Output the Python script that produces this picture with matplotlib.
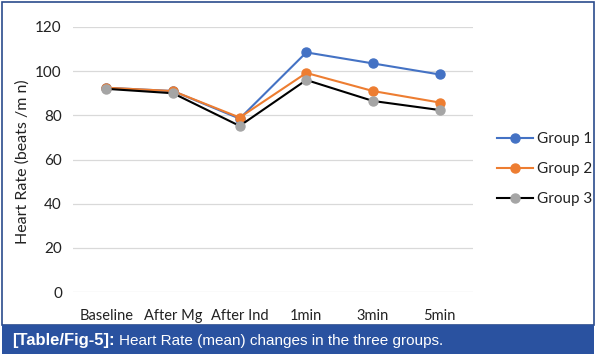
import matplotlib.pyplot as plt
from matplotlib.patches import Rectangle

categories = ["Baseline", "After Mg", "After Ind", "1min", "3min", "5min"]
group1 = [92.5, 91, 78.5, 108.5, 103.5, 98.5]
group2 = [92.5, 91, 79, 99.2, 91, 85.8]
group3 = [92, 90, 75.2, 96, 86.5, 82.4]
series_names = ["Group 1", "Group 2", "Group 3"]
yticks = [0, 20, 40, 60, 80, 100, 120]

W, H = 598, 358
fig = plt.figure(figsize=(W / 100, H / 100), dpi=100)
fig.patch.set_facecolor("white")

tick_font = "Lato"
tc = "#222222"

ax = fig.add_axes([73 / W, 1 - 292 / H, 400 / W, 265 / H])
x = list(range(len(categories)))
ax.plot(x, group1, color="#4472C4", lw=1.5, marker="o", ms=6.5, mfc="#4472C4", mec="#4472C4", label=series_names[0], zorder=3)
ax.plot(x, group2, color="#ED7D31", lw=1.5, marker="o", ms=6.5, mfc="#ED7D31", mec="#ED7D31", label=series_names[1], zorder=4)
ax.plot(x, group3, color="black", lw=1.5, marker="o", ms=6.5, mfc="#A5A5A5", mec="#A5A5A5", label=series_names[2], zorder=5)

ax.set_xlim(-0.5, len(categories) - 0.5)
ax.set_ylim(0, 120)
ax.set_yticks(yticks)
ax.set_yticklabels([str(v) for v in yticks], fontsize=11, family=tick_font, color=tc)
ax.set_xticks(x)
ax.set_xticklabels(categories, fontsize=10.5, family=tick_font, color=tc)
ax.tick_params(length=0)
ax.tick_params(axis="x", pad=12)
ax.tick_params(axis="y", pad=8)
ax.grid(axis="y", color="#D9D9D9", lw=0.9)
ax.set_axisbelow(True)
for s in ax.spines.values():
    s.set_visible(False)

fig.text(23 / W, 1 - 162 / H, "Heart Rate (beats /m n)", rotation=90, va="center", ha="center",
         fontsize=11.5, family=tick_font, color=tc)

leg = fig.legend(loc="center left", bbox_to_anchor=(497 / W, 1 - 169 / H),
                 frameon=False, prop={"family": tick_font, "size": 11},
                 handlelength=2.35, handletextpad=0.3, labelspacing=1.05,
                 borderpad=0, borderaxespad=0)
for t in leg.get_texts():
    t.set_color(tc)

# outer border
fig.patches.append(Rectangle((2 / W, 1 - 325 / H), 592 / W, 323 / H, transform=fig.transFigure,
                             fill=False, edgecolor="#2B4C8C", lw=1.2))
# caption bar
fig.patches.append(Rectangle((2 / W, 1 - 354 / H), 592 / W, 29 / H, transform=fig.transFigure,
                             facecolor="#2A52A0", edgecolor="none"))
fig.text(12 / W, 1 - 341 / H, "[Table/Fig-5]:", color="white", fontsize=12, fontweight="bold",
         family="Liberation Sans", va="center", ha="left")
fig.text(119 / W, 1 - 341 / H, "Heart Rate (mean) changes in the three groups.", color="white", fontsize=11,
         family="Liberation Sans", va="center", ha="left")

fig.savefig("out.png", dpi=100)
